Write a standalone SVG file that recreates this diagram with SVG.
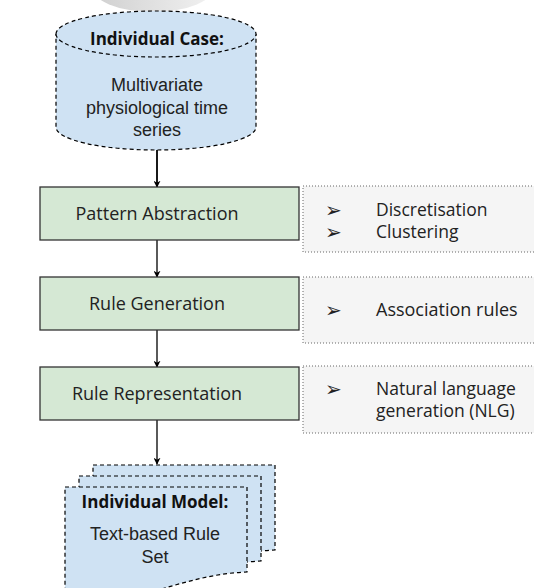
<svg xmlns="http://www.w3.org/2000/svg" width="534" height="588" viewBox="0 0 534 588">
  <defs>
    <marker id="arrow" viewBox="0 0 10 10" refX="9" refY="5" markerWidth="7" markerHeight="7" markerUnits="userSpaceOnUse" orient="auto">
      <path d="M0,0 L10,5 L0,10 L3,5 Z" fill="#000"/>
    </marker>
    <linearGradient id="blob" x1="0" y1="0" x2="1" y2="0">
      <stop offset="0" stop-color="#cfcfcf"/>
      <stop offset="1" stop-color="#f2f2f2"/>
    </linearGradient>
    <path id="page" d="M0,0 H182 V85 C150,86 120,95 90,104 C60,112 30,112 0,108 Z"/>
  </defs>
  <style>
    .step { fill: #d5e8d4; stroke: #333; stroke-width: 1.3; }
    .note { fill: #f5f5f5; stroke: #666; stroke-width: 1; stroke-dasharray: 1 2; }
    .data { fill: #cfe2f3; stroke: #000; stroke-width: 1.2; stroke-dasharray: 4 3; }
    .lbl { font-family: "Open Sans", "DejaVu Sans", sans-serif; font-size: 18px; fill: #222; }
    .txt { font-family: "Open Sans", "DejaVu Sans", sans-serif; font-size: 17.5px; fill: #222; }
    .bul { font-family: "DejaVu Sans", sans-serif; font-size: 20px; fill: #222; }
    .title { font-family: "Open Sans", "DejaVu Sans", sans-serif; font-size: 17px; font-weight: bold; fill: #111; text-anchor: middle; }
    .body { font-family: "Liberation Sans", Arial, sans-serif; font-size: 18px; fill: #222; text-anchor: middle; }
    .mid { text-anchor: middle; }
    .edge { stroke: #000; stroke-width: 1.3; fill: none; marker-end: url(#arrow); }
  </style>

  <!-- grey shape cut off at the top edge -->
  <ellipse cx="153" cy="-14" rx="62" ry="26" fill="url(#blob)"/>

  <!-- connectors -->
  <g id="connectors">
    <line class="edge" x1="157" y1="150" x2="157" y2="187" style="stroke-width:1.8"/>
    <line class="edge" x1="157" y1="240" x2="157" y2="277"/>
    <line class="edge" x1="157" y1="330" x2="157" y2="367"/>
    <line class="edge" x1="157" y1="420" x2="157" y2="464"/>
  </g>

  <!-- input data store -->
  <g id="individual-case">
    <path class="data" d="M56,34 A100,23 0 0 1 256,34 V127 A100,23 0 0 1 56,127 Z"/>
    <path class="data" d="M56,34 A100,23 0 0 0 256,34" fill="none"/>
    <text class="title" x="157" y="45">Individual Case:</text>
    <text class="body" x="157" y="91">Multivariate</text>
    <text class="body" x="157" y="114">physiological time</text>
    <text class="body" x="157" y="136">series</text>
  </g>

  <!-- processing steps -->
  <g id="pattern-abstraction">
    <rect class="step" x="40" y="187" width="259" height="53"/>
    <text class="lbl mid" x="157" y="220">Pattern Abstraction</text>
  </g>
  <g id="rule-generation">
    <rect class="step" x="40" y="277" width="259" height="53"/>
    <text class="lbl mid" x="157" y="310">Rule Generation</text>
  </g>
  <g id="rule-representation">
    <rect class="step" x="40" y="367" width="259" height="53"/>
    <text class="lbl mid" x="157" y="400">Rule Representation</text>
  </g>

  <!-- method notes -->
  <g id="note-pattern">
    <rect class="note" x="303" y="186" width="240" height="66"/>
    <text class="bul" x="325" y="217">➢</text>
    <text class="txt" x="376" y="216">Discretisation</text>
    <text class="bul" x="325" y="239">➢</text>
    <text class="txt" x="376" y="238">Clustering</text>
  </g>
  <g id="note-rules">
    <rect class="note" x="303" y="277" width="240" height="66"/>
    <text class="bul" x="325" y="317">➢</text>
    <text class="lbl" x="376" y="316">Association rules</text>
  </g>
  <g id="note-representation">
    <rect class="note" x="303" y="366" width="240" height="67"/>
    <text class="bul" x="325" y="396">➢</text>
    <text class="txt" x="376" y="395">Natural language</text>
    <text class="txt" x="376" y="417">generation (NLG)</text>
  </g>

  <!-- output document stack -->
  <g id="individual-model">
    <use href="#page" class="data" x="93" y="465"/>
    <use href="#page" class="data" x="79" y="476"/>
    <use href="#page" class="data" x="65" y="487"/>
    <text class="title" x="155" y="508">Individual Model:</text>
    <text class="body" x="155" y="540">Text-based Rule</text>
    <text class="body" x="155" y="563">Set</text>
  </g>
</svg>
